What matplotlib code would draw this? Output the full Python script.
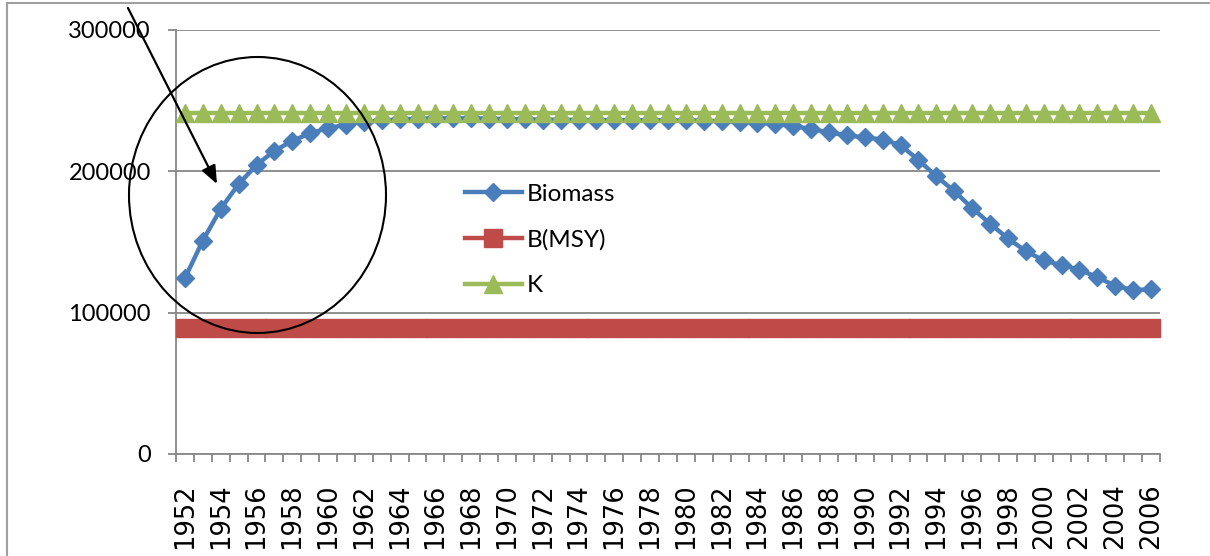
import numpy as np
import matplotlib
matplotlib.use("Agg")
import matplotlib.pyplot as plt
from matplotlib.patches import Ellipse
from matplotlib.lines import Line2D

# data
years = list(range(1952, 2007))
biomass = [124500, 151000, 173500, 191000, 204500, 214500, 221500, 227000, 230500, 233000,
           235000, 236000, 236800, 237200, 237500, 237500, 237500, 237300, 237000, 236800,
           236600, 236500, 236400, 236300, 236300, 236300, 236200, 236000, 236000, 235800,
           235500, 235000, 234500, 233500, 232000, 230000, 227500, 225500, 224000, 222500,
           218500, 208000, 196500, 186000, 174000, 163000, 152500, 143500, 137000, 133500,
           130500, 125000, 119000, 116000, 116500]
b_msy = [89000] * len(years)
k_line = [241000] * len(years)
y_ticks = [0, 100000, 200000, 300000]

W, H = 1210, 556
fig = plt.figure(figsize=(W / 100, H / 100), dpi=100)

def fx(px):
    return px / W

def fy(py):
    return 1 - py / H

ax = fig.add_axes([fx(176), fy(454), fx(1160) - fx(176), fy(30) - fy(454)])

ax.plot(years, biomass, color='#4A7EBB', lw=3.2, marker='D', ms=9, label='Biomass', clip_on=False, zorder=3)
ax.plot(years, b_msy, color='#BE4B48', lw=3.2, marker='s', ms=12.5, label='B(MSY)', clip_on=False, zorder=4)
ax.plot(years, k_line, color='#9BBB59', lw=3.2, marker='^', ms=13.5, label='K', clip_on=False, zorder=5)

ax.set_xlim(years[0] - 0.5, years[-1] + 0.5)
ax.set_ylim(0, 300000)
ax.set_yticks(y_ticks)
ax.set_yticklabels([str(v) for v in y_ticks], fontfamily='Lato', fontsize=17)
ax.set_xticks(years[::2])
ax.set_xticklabels([str(y) for y in years[::2]], rotation=90, fontsize=18.5, fontfamily='DejaVu Sans')
ax.set_xticks(np.arange(years[0] - 0.5, years[-1] + 1), minor=True)
ax.tick_params(axis='x', which='major', length=0, pad=21)
ax.tick_params(axis='x', which='minor', length=6, width=1.3, color='#878787', direction='out')
ax.tick_params(axis='y', length=6, width=1.3, color='#878787', pad=12)

ax.yaxis.grid(True, color='#878787', lw=1.3)
ax.set_axisbelow(True)
for s in ['top', 'right']:
    ax.spines[s].set_visible(False)
for s in ['left', 'bottom']:
    ax.spines[s].set_color('#878787')
    ax.spines[s].set_linewidth(1.3)

leg = ax.legend(loc='center left', bbox_to_anchor=(fx(465), fy(240)), bbox_transform=fig.transFigure,
                frameon=False, borderpad=0, borderaxespad=0, numpoints=1,
                handlelength=2.33, handletextpad=0.2, labelspacing=1.0,
                prop={'family': 'Lato', 'size': 17.5})

# outer chart border
fig.add_artist(Line2D([fx(7), 1], [fy(3), fy(3)], color='#a0a0a0', lw=1.5, transform=fig.transFigure))
fig.add_artist(Line2D([fx(7), fx(7)], [fy(3), 0], color='#a0a0a0', lw=1.5, transform=fig.transFigure))

# hand-drawn circle and arrow
fig.add_artist(Ellipse((fx(257.5), fy(195)), fx(257), 276 / H, fill=False, ec='black', lw=1.5,
                       transform=fig.transFigure, zorder=10))
ax.annotate('', xy=(fx(217), fy(184)), xytext=(fx(128), fy(8)), xycoords='figure fraction',
            textcoords='figure fraction',
            arrowprops=dict(arrowstyle='-|>,head_length=1.1,head_width=0.45', lw=1.6, color='black',
                            mutation_scale=10, shrinkA=0, shrinkB=0),
            annotation_clip=False, zorder=10)

fig.savefig('out.png', dpi=100)
